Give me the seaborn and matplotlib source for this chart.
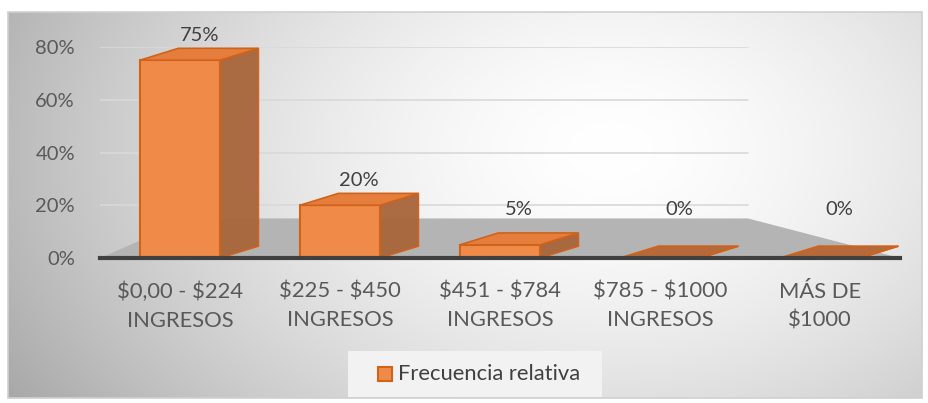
import numpy as np
import pandas as pd
import matplotlib
matplotlib.use("Agg")
import matplotlib.pyplot as plt
from matplotlib.patches import Polygon, Rectangle
from matplotlib.ticker import PercentFormatter
import seaborn as sns

categories = ["$0,00 - $224\nINGRESOS", "$225 - $450\nINGRESOS", "$451 - $784\nINGRESOS",
              "$785 - $1000\nINGRESOS", "MÁS DE\n$1000"]
values = [0.75, 0.20, 0.05, 0.0, 0.0]
value_labels = ["75%", "20%", "5%", "0%", "0%"]
series_name = "Frecuencia relativa"
y_ticks = [0, 0.2, 0.4, 0.6, 0.8]

sns.set_theme(style="white")
plt.rcParams["font.family"] = ["Lato", "DejaVu Sans"]
plt.rcParams["text.parse_math"] = False

W, H = 929, 403
FS_NUM = 14.5
FS_TXT = 15.8
fig = plt.figure(figsize=(W / 100, H / 100), dpi=100)
fig.patch.set_facecolor("white")

# background gradient panel with border
bg = fig.add_axes([0, 0, 1, 1], zorder=-5)
bg.axis("off")
yy, xx = np.mgrid[0:H, 0:W]
d = np.sqrt(((xx - 610) / 620.0) ** 2 + ((yy - 150) / 420.0) ** 2)
val = 1 - 0.28 * np.clip(d, 0, 1.2) ** 1.6
img = np.dstack([val, val, val])
x0, y0, x1, y1 = 8, 12, 922, 398
bg.imshow(img[y0:y1, x0:x1], extent=(x0, x1, y1, y0), aspect="auto", interpolation="bilinear")
bg.add_patch(Rectangle((x0, y0), x1 - x0, y1 - y0, fill=False, edgecolor="#d0d0d0", lw=1.2))
bg.set_xlim(0, W)
bg.set_ylim(H, 0)

df = pd.DataFrame({"cat": categories, "val": values})

ax = fig.add_axes([100 / W, 1 - 258 / H, 800 / W, (258 - 47) / H])
ax.patch.set_alpha(0)

front = "#EF8A48"
side = "#A8643A"
top = "#E57E3C"
edge = "#D0621A"

sns.barplot(data=df, x="cat", y="val", color=front, width=0.5, ax=ax,
            edgecolor=edge, linewidth=1.5, saturation=1, zorder=3)

ax.set_ylim(0, 0.8)
ax.set_xlim(-0.5, len(categories) - 0.5)
ax.set_yticks(y_ticks)
ax.yaxis.set_major_formatter(PercentFormatter(1.0, decimals=0))
for yt in y_ticks[1:]:
    ax.axhline(yt, xmin=0, xmax=0.81, color="#d9d9d9", lw=1.2, zorder=0)
for s in ["left", "right", "top"]:
    ax.spines[s].set_visible(False)
ax.spines["bottom"].set_color("#404040")
ax.spines["bottom"].set_linewidth(3)
ax.spines["bottom"].set_zorder(6)
ax.set_xlabel("")
ax.set_ylabel("")
ax.tick_params(axis="y", length=0, pad=18, labelsize=FS_NUM, labelcolor="#595959")
ax.tick_params(axis="x", length=0, pad=17, labelsize=FS_TXT, labelcolor="#595959")
for t in ax.get_xticklabels():
    t.set_linespacing(1.55)

# floor
dx, dy = 0.24, 0.045
floor_top = 0.15
floor = Polygon([(-0.5, 0), (len(categories) - 0.5, 0), (3.55, floor_top), (0.07, floor_top)],
                closed=True, facecolor="#b4b4b4", edgecolor="none", zorder=1)
ax.add_patch(floor)

# pseudo 3D faces, derived from the seaborn bar patches
for p, lab in zip(ax.patches[:len(values)], value_labels):
    bx, bw, bh = p.get_x(), p.get_width(), p.get_height()
    side_poly = Polygon([(bx + bw, 0), (bx + bw + dx, dy), (bx + bw + dx, bh + dy), (bx + bw, bh)],
                        closed=True, facecolor=side, edgecolor=edge, lw=1.2, zorder=2.5, alpha=0.95)
    top_poly = Polygon([(bx, bh), (bx + dx, bh + dy), (bx + bw + dx, bh + dy), (bx + bw, bh)],
                       closed=True, facecolor=top if bh > 0 else "#B8693A", edgecolor=edge, lw=1.2,
                       zorder=3.5 if bh > 0 else 2.5)
    ax.add_patch(side_poly)
    ax.add_patch(top_poly)
    ly = max(bh + dy + 0.015, floor_top)
    ax.text(bx + (bw + dx) / 2, ly, lab, ha="center", va="bottom",
            fontsize=FS_NUM, color="#404040", zorder=7, clip_on=False)

# legend box
lg = fig.add_axes([348 / W, 1 - 397 / H, 254 / W, 46 / H])
lg.set_xlim(0, 254)
lg.set_ylim(46, 0)
lg.axis("off")
lg.add_patch(Rectangle((0, 0), 254, 46, facecolor="#f2f2f2", edgecolor="none"))
lg.add_patch(Rectangle((30, 16), 14, 14, facecolor=front, edgecolor=edge, lw=1.5))
lg.text(50, 23.5, series_name, ha="left", va="center", fontsize=FS_TXT, color="#404040")

fig.savefig("out.png", dpi=100)
